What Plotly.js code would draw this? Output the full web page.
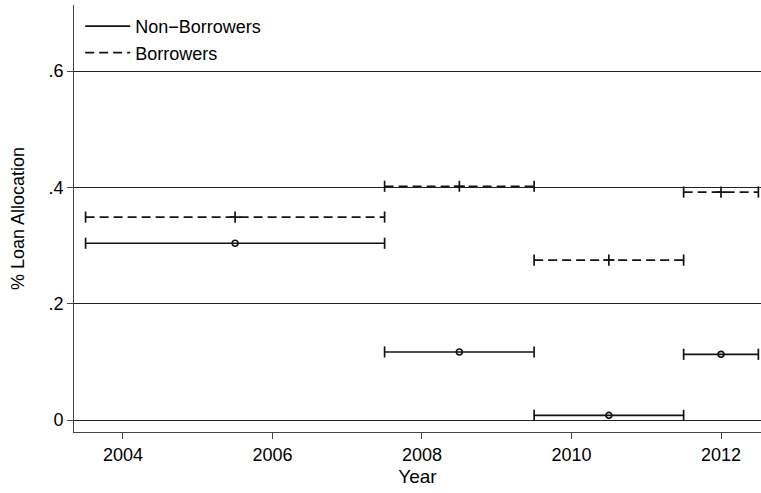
<!DOCTYPE html>
<html>
<head>
<meta charset="utf-8">
<script src="https://cdn.plot.ly/plotly-3.0.1.min.js"></script>
<style>html,body{margin:0;padding:0;background:#fff;}#chart{width:761px;height:493px;}</style>
</head>
<body>
<div id="chart"></div>
<script>
// Data
const periodCenter = [2005.5, 2008.5, 2010.5, 2012];
const periodHalfWidth = [2, 1, 1, 0.5];
const nonBorrowers = [0.304, 0.117, 0.008, 0.113];
const borrowers = [0.349, 0.402, 0.275, 0.392];
const seriesNames = ['Non\u2212Borrowers', 'Borrowers'];
const xTicks = [2004, 2006, 2008, 2010, 2012];
const yTickVals = [0, 0.2, 0.4, 0.6];
const yTickText = ['0', '.2', '.4', '.6'];

const ink = 'rgb(20,20,20)';

function segTraces(vals, name, dash, centerSymbol) {
  const sx = [], sy = [], cx = [], cy = [];
  vals.forEach((v, i) => {
    const lo = periodCenter[i] - periodHalfWidth[i];
    const hi = periodCenter[i] + periodHalfWidth[i];
    sx.push(lo, hi, null); sy.push(v, v, null);
    cx.push(lo, hi); cy.push(v, v);
  });
  return [
    {x: sx, y: sy, type: 'scatter', mode: 'lines', name: name,
     line: {color: ink, width: 1.7, dash: dash}, cliponaxis: false, hoverinfo: 'skip'},
    {x: cx, y: cy, type: 'scatter', mode: 'markers', showlegend: false,
     marker: {symbol: 'line-ns-open', size: 8, color: ink, line: {color: ink, width: 1.7}}, cliponaxis: false},
    {x: periodCenter, y: vals, type: 'scatter', mode: 'markers', showlegend: false,
     marker: {symbol: centerSymbol, size: centerSymbol === 'circle-open' ? 6 : 8,
              color: ink, line: {color: ink, width: 1.7}}, cliponaxis: false}
  ];
}

const data = [
  ...segTraces(nonBorrowers, seriesNames[0], 'solid', 'circle-open'),
  ...segTraces(borrowers, seriesNames[1], '9px,5px', 'cross-thin-open')
];

const layout = {
  width: 761, height: 493,
  margin: {l: 74, r: 0, t: 5, b: 61},
  paper_bgcolor: '#fff', plot_bgcolor: '#fff',
  font: {family: '"Liberation Sans", Arial, sans-serif', size: 18, color: '#000'},
  showlegend: true,
  legend: {x: 0.009, y: 0.993, xanchor: 'left', yanchor: 'top', bgcolor: 'rgba(0,0,0,0)',
           font: {size: 18}, tracegroupgap: 0, itemwidth: 45},
  xaxis: {
    range: [2003.345, 2012.535],
    tickvals: xTicks, ticktext: xTicks.map(String),
    ticks: 'outside', ticklen: 6, tickcolor: '#444', tickwidth: 1,
    showline: true, linecolor: '#444', linewidth: 1,
    showgrid: false, zeroline: false,
    tickfont: {size: 18},
    title: {text: 'Year', font: {size: 19}, standoff: 6}
  },
  yaxis: {
    range: [-0.0206, 0.7137],
    tickvals: yTickVals, ticktext: yTickText,
    ticks: 'outside', ticklen: 6, tickcolor: '#444', tickwidth: 1,
    showline: true, linecolor: '#444', linewidth: 1,
    showgrid: true, gridcolor: '#222', gridwidth: 1,
    zeroline: false,
    tickfont: {size: 18},
    title: {text: '% Loan Allocation', font: {size: 18}, standoff: 19}
  }
};

Plotly.newPlot('chart', data, layout, {displayModeBar: false, staticPlot: true});
</script>
</body>
</html>
